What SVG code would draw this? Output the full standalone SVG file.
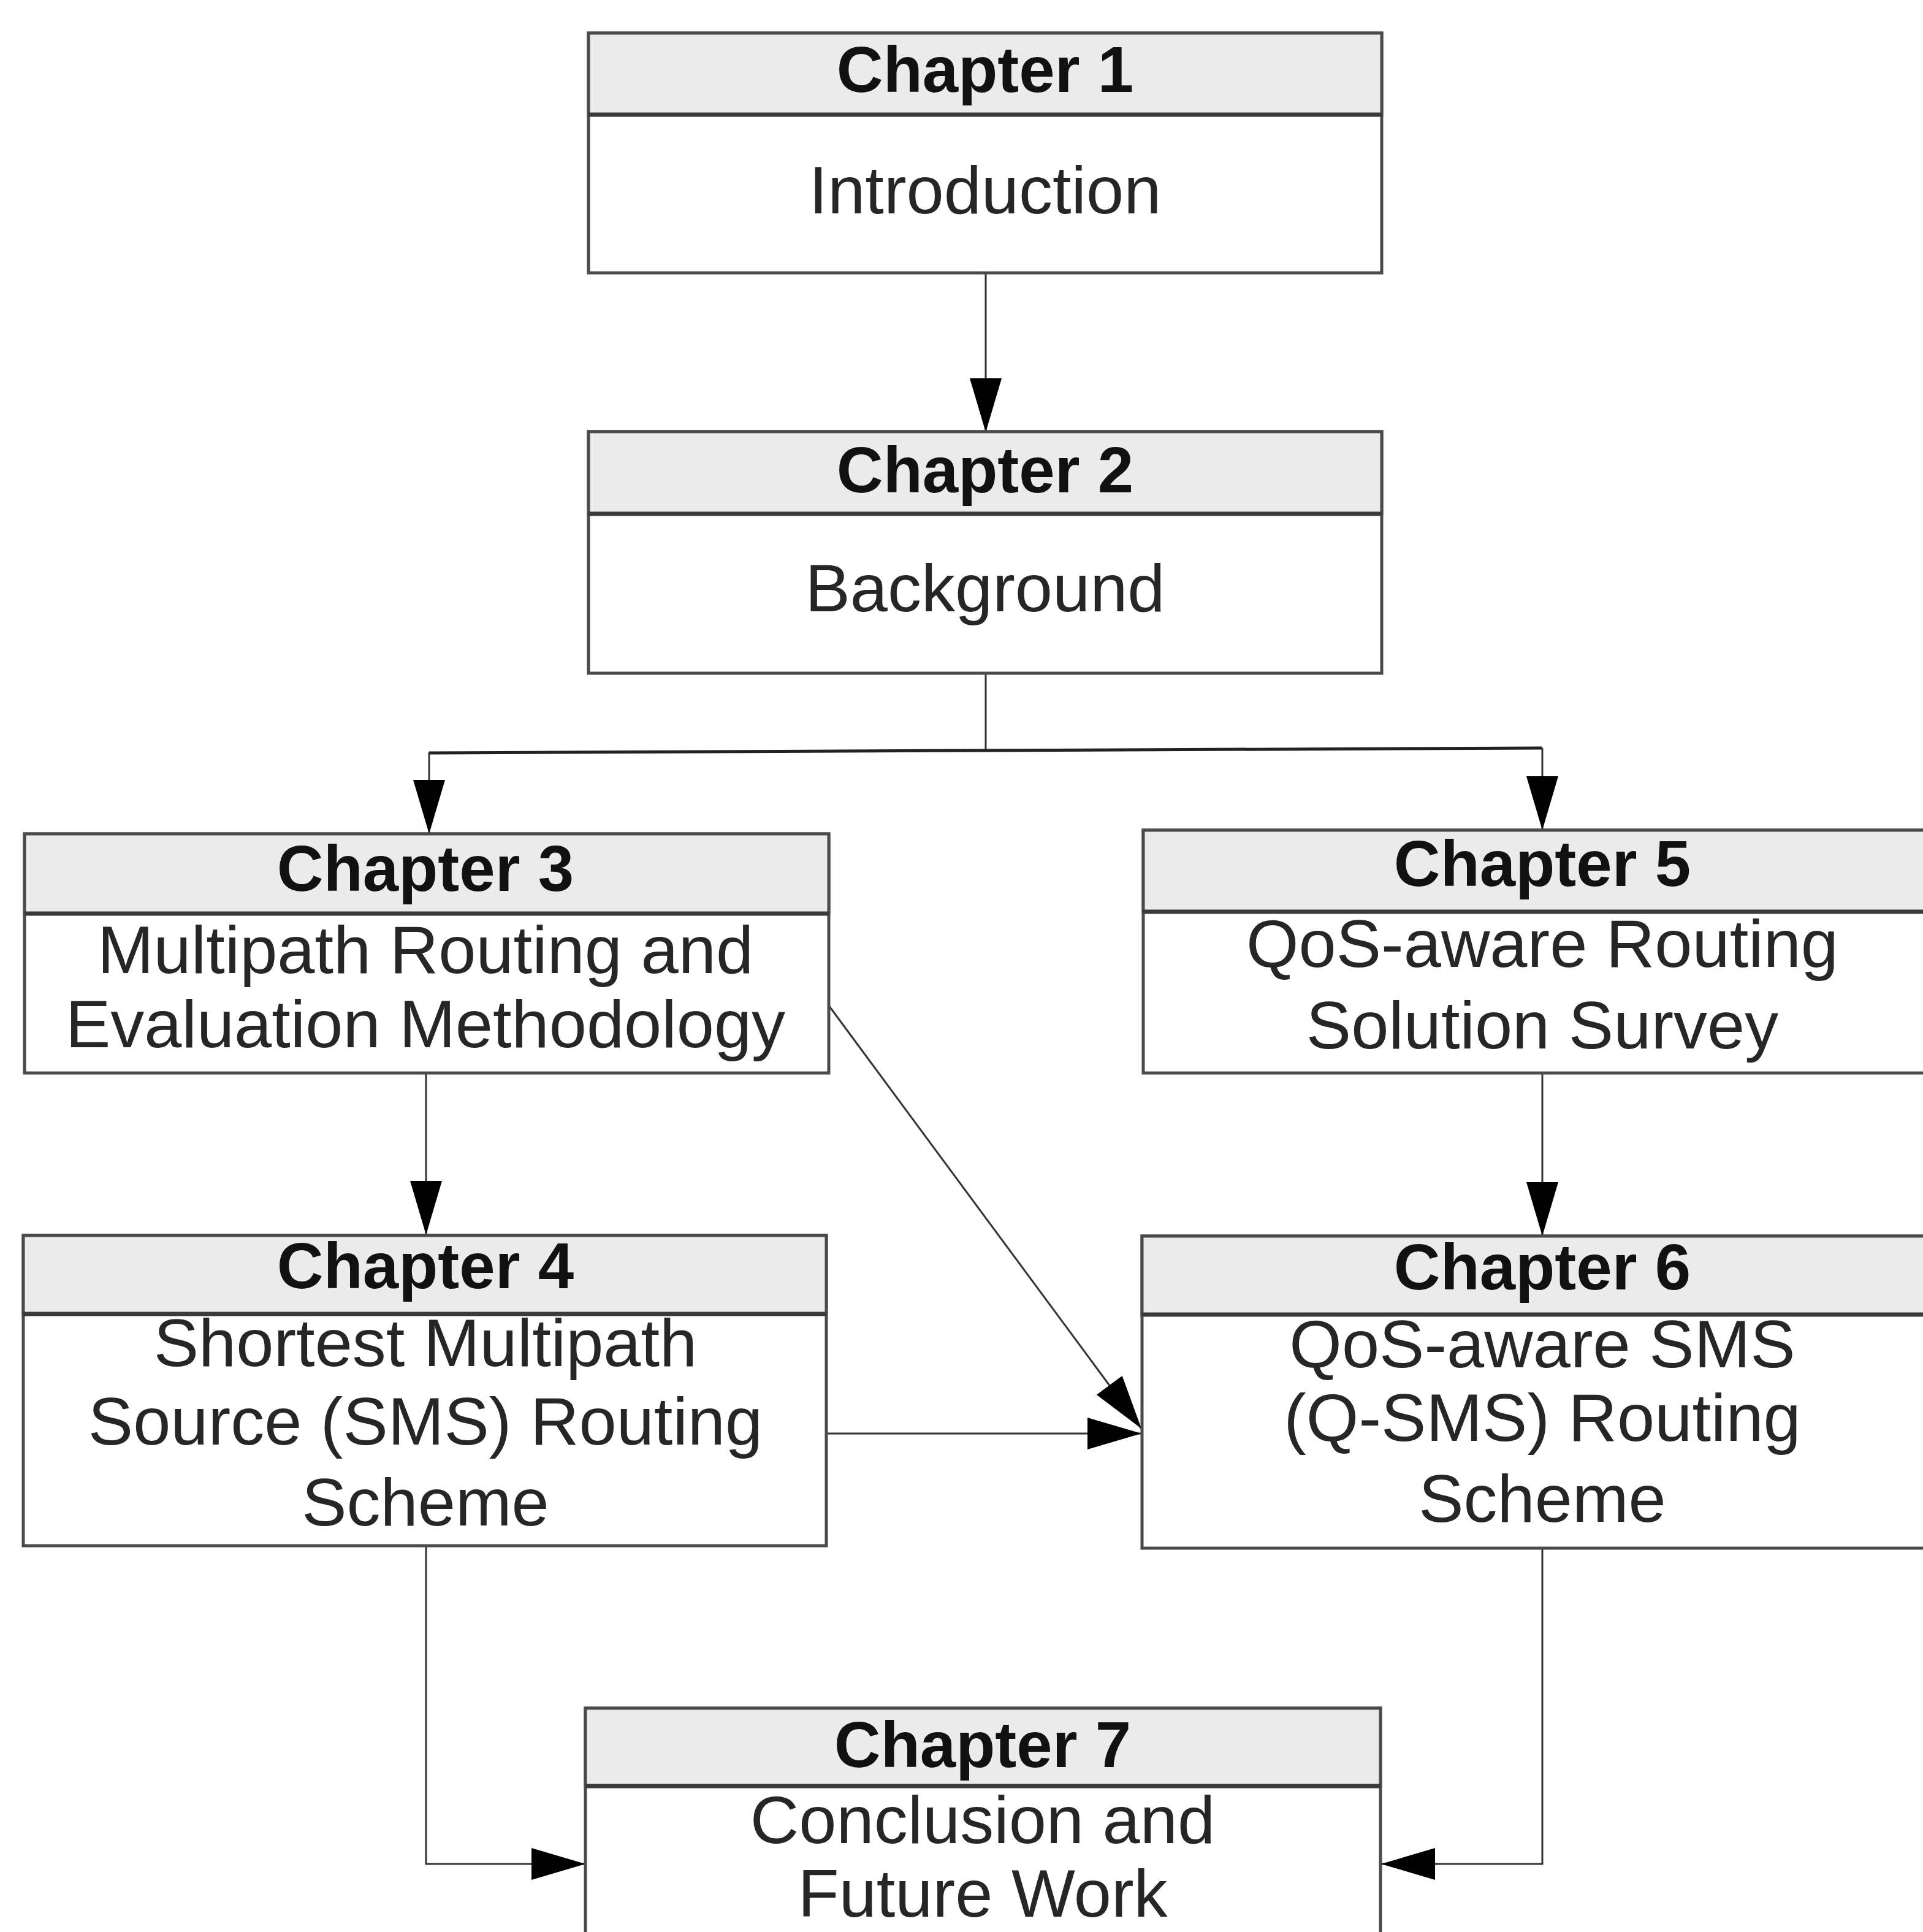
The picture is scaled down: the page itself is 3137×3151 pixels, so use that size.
<svg xmlns="http://www.w3.org/2000/svg" width="3137" height="3151" viewBox="0 0 3137 3151">
  <style>
    .box { fill: #ffffff; stroke: #4a4a4a; stroke-width: 5; }
    .head { fill: #ebebeb; stroke: #4a4a4a; stroke-width: 5; }
    .div { stroke: #3a3a3a; stroke-width: 7; }
    .title { font-family: "Liberation Sans", Arial, sans-serif; font-weight: bold; font-size: 105px; fill: #111; text-anchor: middle; }
    .body { font-family: "Liberation Sans", Arial, sans-serif; font-size: 110px; fill: #262626; text-anchor: middle; }
    .conn { fill: none; stroke: #333; stroke-width: 3; }
    .conn-thick { fill: none; stroke: #222; stroke-width: 5; }
  </style>
  <defs>
    <marker id="arrow" markerUnits="userSpaceOnUse" markerWidth="90" markerHeight="54" refX="88" refY="26" orient="auto">
      <path d="M0,0 L88,26 L0,52 z" fill="#000"/>
    </marker>
  </defs>
  <rect width="3137" height="3151" fill="#ffffff"/>

  <g id="connectors">
    <line class="conn" x1="1608" y1="445" x2="1608" y2="705" marker-end="url(#arrow)"/>
    <line class="conn" x1="1608" y1="1098" x2="1608" y2="1225"/>
    <polyline class="conn-thick" points="2516,1220 1608,1224 700,1228"/>
    <line class="conn" x1="700" y1="1227" x2="700" y2="1360" marker-end="url(#arrow)"/>
    <line class="conn" x1="2516" y1="1220" x2="2516" y2="1354" marker-end="url(#arrow)"/>
    <line class="conn" x1="695" y1="1750" x2="695" y2="2014" marker-end="url(#arrow)"/>
    <line class="conn" x1="2516" y1="1750" x2="2516" y2="2016" marker-end="url(#arrow)"/>
    <line class="conn" x1="1352" y1="1640" x2="1862" y2="2330" marker-end="url(#arrow)"/>
    <line class="conn" x1="1348" y1="2338" x2="1862" y2="2338" marker-end="url(#arrow)"/>
    <polyline class="conn" points="695,2520 695,3040 955,3040" marker-end="url(#arrow)"/>
    <polyline class="conn" points="2516,2525 2516,3040 2253,3040" marker-end="url(#arrow)"/>
  </g>

  <g id="chapter1">
    <rect class="box" x="960" y="54" width="1294" height="391"/>
    <rect class="head" x="960" y="54" width="1294" height="133"/>
    <line class="div" x1="960" y1="187" x2="2254" y2="187"/>
    <text class="title" x="1607" y="150">Chapter 1</text>
    <text class="body" x="1607" y="348">Introduction</text>
  </g>

  <g id="chapter2">
    <rect class="box" x="960" y="704" width="1294" height="394"/>
    <rect class="head" x="960" y="704" width="1294" height="134"/>
    <line class="div" x1="960" y1="838" x2="2254" y2="838"/>
    <text class="title" x="1607" y="803">Chapter 2</text>
    <text class="body" x="1607" y="997">Background</text>
  </g>

  <g id="chapter3">
    <rect class="box" x="40" y="1360" width="1312" height="390"/>
    <rect class="head" x="40" y="1360" width="1312" height="130"/>
    <line class="div" x1="40" y1="1490" x2="1352" y2="1490"/>
    <text class="title" x="694" y="1453">Chapter 3</text>
    <text class="body" x="694" y="1587">Multipath Routing and</text>
    <text class="body" x="694" y="1708">Evaluation Methodology</text>
  </g>

  <g id="chapter5">
    <rect class="box" x="1865" y="1354" width="1310" height="396"/>
    <rect class="head" x="1865" y="1354" width="1310" height="133"/>
    <line class="div" x1="1865" y1="1487" x2="3175" y2="1487"/>
    <text class="title" x="2516" y="1445">Chapter 5</text>
    <text class="body" x="2516" y="1577">QoS-aware Routing</text>
    <text class="body" x="2516" y="1710">Solution Survey</text>
  </g>

  <g id="chapter4">
    <rect class="box" x="38" y="2015" width="1310" height="506"/>
    <rect class="head" x="38" y="2015" width="1310" height="128"/>
    <line class="div" x1="38" y1="2143" x2="1348" y2="2143"/>
    <text class="title" x="694" y="2101">Chapter 4</text>
    <text class="body" x="694" y="2228">Shortest Multipath</text>
    <text class="body" x="694" y="2356">Source (SMS) Routing</text>
    <text class="body" x="694" y="2488">Scheme</text>
  </g>

  <g id="chapter6">
    <rect class="box" x="1863" y="2016" width="1310" height="509"/>
    <rect class="head" x="1863" y="2016" width="1310" height="128"/>
    <line class="div" x1="1863" y1="2144" x2="3173" y2="2144"/>
    <text class="title" x="2516" y="2103">Chapter 6</text>
    <text class="body" x="2516" y="2230">QoS-aware SMS</text>
    <text class="body" x="2516" y="2350">(Q-SMS) Routing</text>
    <text class="body" x="2516" y="2482">Scheme</text>
  </g>

  <g id="chapter7">
    <rect class="box" x="955" y="2786" width="1297" height="420"/>
    <rect class="head" x="955" y="2786" width="1297" height="127"/>
    <line class="div" x1="955" y1="2913" x2="2252" y2="2913"/>
    <text class="title" x="1603" y="2882">Chapter 7</text>
    <text class="body" x="1603" y="3006">Conclusion and</text>
    <text class="body" x="1603" y="3126">Future Work</text>
  </g>
</svg>
